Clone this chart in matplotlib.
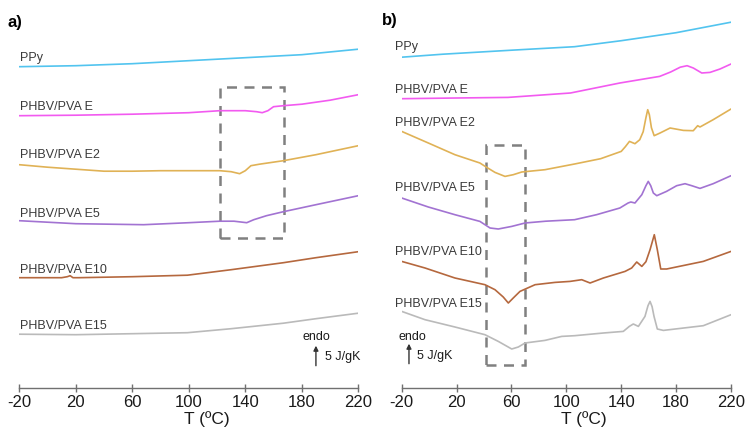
import matplotlib
matplotlib.use("Agg")
import matplotlib.pyplot as plt
from matplotlib.patches import Rectangle

plt.rcParams['font.family'] = ['Liberation Sans', 'DejaVu Sans']

# heat flow curves (arbitrary units, offset stacked)
labels = ['PPy', 'PHBV/PVA E', 'PHBV/PVA E2', 'PHBV/PVA E5', 'PHBV/PVA E10', 'PHBV/PVA E15']
colors = ['#52c4ef', '#f25af0', '#e0b256', '#a273d2', '#b5683e', '#bababa']

# ---- panel a) ----
a_ppy_t = [-20, 20, 60, 100, 140, 180, 220]
a_ppy_h = [321, 322, 324, 327, 330, 333, 338.5]
a_e_t = [-20, 20, 60, 100, 122, 140, 148, 152, 156, 160, 167, 180, 200, 220]
a_e_h = [272, 272.5, 273.5, 275, 277, 277, 276, 275, 277, 281, 282, 283.5, 287.5, 293]
a_e2_t = [-20, 0, 20, 40, 60, 80, 100, 122, 130, 136, 140, 144, 150, 167, 190, 220]
a_e2_h = [223, 220.5, 218.5, 216.5, 216.5, 217, 217, 217, 216, 214, 217, 222, 223.5, 227, 233, 242]
a_e5_t = [-20, 20, 68, 100, 122, 132, 138, 141, 146, 155, 167, 190, 220]
a_e5_h = [167, 164, 163, 165, 166.5, 166.5, 165.5, 165, 168, 172, 176, 183, 192]
a_e10_t = [-20, 10, 14, 16, 18, 22, 60, 99, 130, 167, 190, 220]
a_e10_h = [110, 110, 111, 112, 110, 110, 111, 112.5, 118, 125, 130, 136]
a_e15_t = [-20, 20, 60, 99, 130, 167, 190, 220]
a_e15_h = [53.5, 53, 54, 55, 59, 64.5, 69, 74.5]

# ---- panel b) ----
b_ppy_t = [-20, 10, 60, 106, 140, 180, 220]
b_ppy_h = [330.5, 333.5, 337.5, 341, 347, 355, 365.5]
b_e_t = [-20, 20, 57.5, 103, 139, 160, 168, 176, 183, 188, 192.5, 198.7, 204.7, 212, 220]
b_e_h = [289, 289.7, 290.3, 294.7, 304.7, 309.5, 311.3, 315.7, 320.5, 322, 319.7, 314.7,
         315.3, 318.7, 323.7]
b_e2_t = [-20, -0.6, 18.8, 37, 42, 48, 55.3, 61.3, 67.5, 84.4, 106, 125, 140, 143, 146, 150,
          153.5, 156, 158, 159.3, 160.5, 162, 164, 168.3, 175.6, 185.3, 192.5, 195.7, 197.4,
          207, 220]
b_e2_h = [256.3, 244.7, 233, 224.7, 220.3, 215.3, 211.3, 213, 215.7, 218, 223.7, 229, 236.3,
          241, 246.3, 244, 248, 256, 270, 278, 273, 260, 252, 254.7, 259.7, 257.3, 257, 262,
          260.7, 268, 278.7]
b_e5_t = [-20, -0.6, 18.8, 37, 44.4, 50.4, 60.2, 69.9, 85, 106, 122, 139, 145, 147, 150, 155,
          158, 159.7, 161.5, 163.4, 165.9, 173, 180.4, 186.5, 191.4, 197.4, 207, 220]
b_e5_h = [189.7, 180.7, 173, 166.3, 159.7, 158.7, 161.3, 164.7, 166.5, 168, 173, 179.7, 184.7,
          185.7, 184.7, 193, 202, 206.3, 202, 194.7, 192, 196.3, 202, 204, 202, 199.3, 204, 212]
b_e10_t = [-20, -3, 18.8, 40.7, 48, 54, 57.7, 61.3, 66.2, 77.2, 91.7, 102.7, 111.2, 117.3, 127,
           142.8, 147.6, 151.3, 155, 158, 161, 164.1, 166.3, 168.8, 173.1, 199.8, 220]
b_e10_h = [126.3, 119.7, 109.7, 103, 98, 90.7, 84.7, 89.7, 96.3, 103, 105.3, 106.3, 108, 104.7,
           109.7, 116.3, 119.7, 125.7, 121.3, 126, 138, 153, 138, 118.7, 118.7, 126.3, 136.3]
b_e15_t = [-20, -3, 18.8, 40.7, 50.4, 60.2, 65, 69.9, 84.4, 96.6, 106, 127, 141.5, 145.9, 148.8,
           152.5, 157.3, 159.5, 161, 162.5, 163.9, 166.3, 170.7, 199.8, 220]
b_e15_h = [76.3, 68, 60.7, 53, 46.3, 38.7, 40.7, 44.7, 47.3, 51.3, 52, 54.7, 56.3, 61.3, 63.7,
           61.3, 71.3, 82, 86.3, 81, 71.3, 58.7, 57.3, 62, 73]

a_curves = [(a_ppy_t, a_ppy_h), (a_e_t, a_e_h), (a_e2_t, a_e2_h),
            (a_e5_t, a_e5_h), (a_e10_t, a_e10_h), (a_e15_t, a_e15_h)]
b_curves = [(b_ppy_t, b_ppy_h), (b_e_t, b_e_h), (b_e2_t, b_e2_h),
            (b_e5_t, b_e5_h), (b_e10_t, b_e10_h), (b_e15_t, b_e15_h)]

a_label_y = [330, 281, 233, 174, 118, 62]
b_label_y = [341, 298, 265, 200, 136, 84]

xticks = [-20, 20, 60, 100, 140, 180, 220]

fig = plt.figure(figsize=(7.5, 4.38), dpi=100)
H = 438.0
ax_a = fig.add_axes([19.3 / 750, 1 - 387.7 / H, 339 / 750, 387.7 / H])
ax_b = fig.add_axes([401.7 / 750, 1 - 387.7 / H, 329.3 / 750, 387.7 / H])


def style_axis(ax):
    ax.set_xlim(-20, 220)
    ax.set_ylim(0, 387.7)
    for s in ['left', 'right', 'top']:
        ax.spines[s].set_visible(False)
    ax.spines['bottom'].set_color('#707070')
    ax.spines['bottom'].set_linewidth(1.0)
    ax.set_yticks([])
    ax.set_xticks(xticks)
    ax.set_xticklabels([str(t) for t in xticks])
    ax.tick_params(axis='x', direction='inout', length=6, width=1.0, color='#707070',
                   labelsize=12, labelcolor='#1a1a1a', pad=2)
    ax.set_xlabel('T (ºC)', fontsize=12.5, color='#1a1a1a')
    ax.xaxis.set_label_coords(0.552, -0.06)
    ax.patch.set_alpha(0)


def draw_panel(ax, curves, label_y, label_x):
    for (t, h), c, lab, ly in zip(curves, colors, labels, label_y):
        ax.plot(t, h, color=c, lw=1.2, solid_joinstyle='round', solid_capstyle='round')
        ax.text(label_x, ly, lab, fontsize=9, color='#3a3a3a', va='center', ha='left',
                clip_on=False)


style_axis(ax_a)
style_axis(ax_b)
draw_panel(ax_a, a_curves, a_label_y, -19.5)
draw_panel(ax_b, b_curves, b_label_y, -24.8)

# dashed boxes
ax_a.add_patch(Rectangle((122.3, 150), 45.1, 150.3, fill=False, ls=(0, (4, 3)),
                         lw=1.8, ec='#808080', clip_on=False))
ax_b.add_patch(Rectangle((41.4, 23), 28.5, 220, fill=False, ls=(0, (4, 3)),
                         lw=1.8, ec='#808080', clip_on=False))

# endo scale arrows
arrow_kw = dict(arrowstyle='-|>', color='#333333', lw=1.0, mutation_scale=7,
                shrinkA=0, shrinkB=0)
ax_a.annotate('', xy=(190, 42), xytext=(190, 22), arrowprops=arrow_kw)
ax_a.text(190.5, 51, 'endo', fontsize=9, ha='center', va='center', color='#1a1a1a')
ax_a.text(196.4, 31, '5 J/gK', fontsize=9, ha='left', va='center', color='#1a1a1a')

ax_b.annotate('', xy=(-14.7, 44), xytext=(-14.7, 24), arrowprops=arrow_kw)
ax_b.text(-22.5, 51, 'endo', fontsize=9, ha='left', va='center', color='#1a1a1a',
          clip_on=False)
ax_b.text(-9, 32, '5 J/gK', fontsize=9, ha='left', va='center', color='#1a1a1a')

fig.text(15 / 750, 1 - 22 / H, 'a)', fontsize=12, fontweight='bold', ha='center', va='center')
fig.text(390 / 750, 1 - 21 / H, 'b)', fontsize=12, fontweight='bold', ha='center', va='center')

fig.savefig('out.png', dpi=100)
